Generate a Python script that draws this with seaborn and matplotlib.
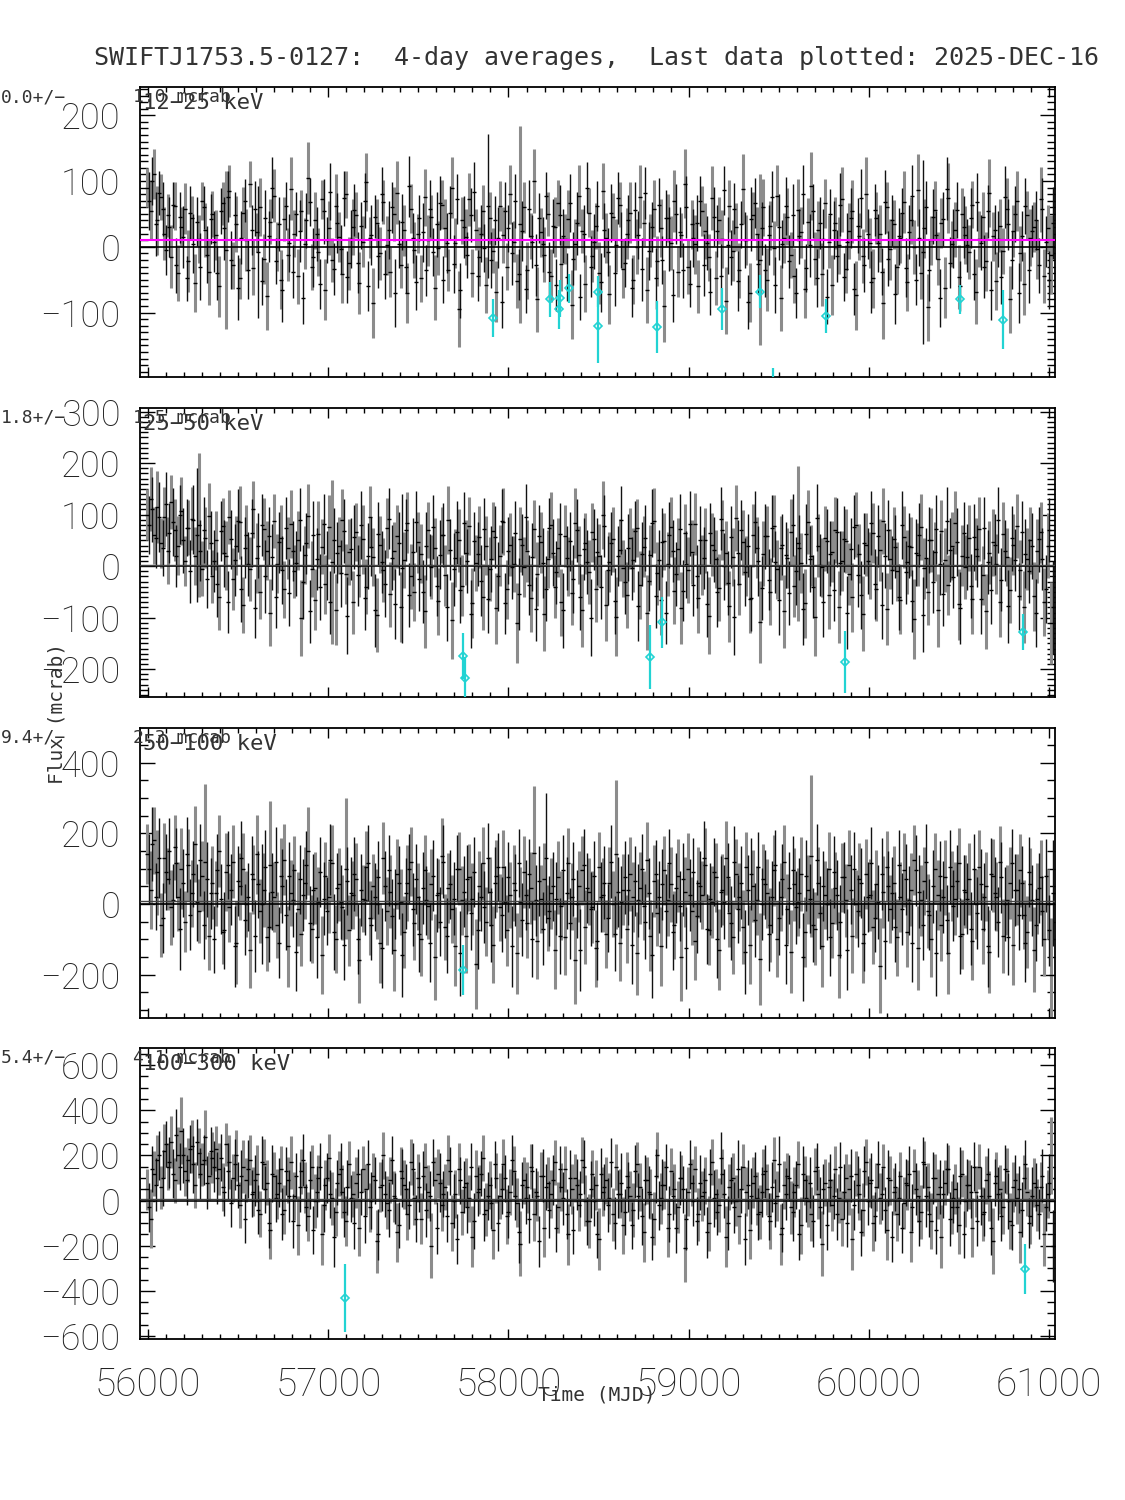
import numpy as np
import pandas as pd
import matplotlib
matplotlib.use("Agg")
import matplotlib.pyplot as plt
from matplotlib.ticker import MultipleLocator
import seaborn as sns

sns.set_style("ticks")
plt.rcParams["font.family"] = ["DejaVu Sans"]

TITLE = "SWIFTJ1753.5-0127:  4-day averages,  Last data plotted: 2025-DEC-16"
bands = ["12\u221225 keV", "25\u221250 keV", "50\u2212100 keV", "100\u2212300 keV"]
band_means = [0.0, 1.8, 9.4, 5.4]
band_errs = [1.0, 1.5, 2.3, 4.1]
mjd_start = 55995
bin_step = 19          # spacing within each of the two interleaved sets
offset_b = 9.5         # second set sits half-way between the first

# ---------------- 12-25 keV ----------------
flux_12_25 = [
    90, 55, 110, 40, 75, 20, 48, -15, 62, -40, 30, 58, -22, 44, -55, 12, 70, 25, -38, 50,
    18, -60, 66, -5, 85, -28, 35, -48, 52, 10, 95, -32, 22, 60, -18, -75, 38, 78, 0, -50,
    42, -12, 88, 20, -45, 55, 5, 105, -30, 40, -8, 72, -65, 28, -20, 62, 15, -42, 80, -25,
    30, 48, -55, 8, 98, 14, -85, 36, -10, 68, 2, -38, 50, 82, -28, 25, -70, 58, -5, 20,
    -48, 75, 10, 45, -62, -2, 64, 28, -35, 90, 6, -95, 40, 15, 72, -40, 26, -15, 55, -58,
    44, -6, -68, 62, 18, -30, 80, 8, -52, 34, 60, -36, 16, 100, -80, 22, -12, 50, -44, 30,
    66, -26, 12, 42, -88, 4, 78, 24, -56, 52, -14, 32, -40, 85, 14, -72, 46, 2, 64, -34,
    20, 52, -50, 0, 76, 36, -66, 10, 58, -22, 28, -90, 44, 6, 70, -38, 18, 96, -30, 34,
    4, -60, 54, 24, -16, 74, -48, 40, 12, -82, 62, -6, 30, -36, 88, 10, -70, 48, 20, -20,
    60, -50, 32, -2, 78, -78, 14, 46, -12, -44, 56, 22, -64, 38, 92, -18, 26, -42, 66, 8,
    -58, 36, 2, 72, -34, 24, 54, -74, 16, -14, 80, 6, -48, 44, 20, -86, 60, -4, 34, -30,
    14, 68, -54, 40, 0, 86, -40, 28, -92, 10, 56, -18, 36, -62, 74, 4, 26, -46, 50, 18,
    -8, 64, -68, 12, 46, -22, 82, 16, -52, 32, -6, 58, -80, 24, 70, -10, -56, 48, 14, 30,
    -4, 72, -44, 28, -12]
err_12_25 = [
    30, 45, 38, 52, 35, 40, 33, 48, 36, 42, 31, 39, 47, 34, 44, 37, 29, 41, 50, 35,
    38, 46, 33, 120, 40, 36, 43, 31, 39, 47, 35, 42, 30, 44, 38, 52, 34, 41, 37, 45,
    33, 40, 48, 36, 42, 31, 39, 55, 35, 44, 37, 30, 46, 41, 33, 49, 38, 43, 36, 40,
    42, 35, 47, 39, 44, 31, 53, 36, 40, 33, 45, 38, 41, 48, 34, 39, 46, 37, 42, 30,
    36, 43, 39, 34, 49, 41, 37, 44, 32, 46, 38, 58, 35, 42, 40, 37, 31, 45, 39, 43,
    40, 34, 47, 38, 42, 36, 45, 31, 41, 150, 39, 44, 35, 48, 50, 37, 42, 33, 40, 46,
    35, 41, 38, 44, 52, 39, 46, 33, 43, 37, 40, 35, 47, 42, 38, 45, 36, 41, 34, 44,
    39, 46, 37, 42, 48, 35, 50, 40, 43, 38, 44, 55, 36, 41, 47, 39, 33, 52, 42, 37,
    45, 40, 38, 43, 36, 49, 41, 35, 44, 51, 39, 46, 37, 42, 53, 38, 45, 36, 40, 130,
    43, 48, 37, 41, 46, 50, 38, 44, 35, 42, 47, 39, 45, 36, 52, 40, 43, 48, 37, 41,
    46, 39, 44, 50, 37, 42, 48, 53, 36, 41, 57, 38, 45, 40, 43, 54, 39, 46, 37, 42,
    38, 47, 43, 36, 41, 55, 39, 45, 51, 37, 44, 40, 38, 46, 53, 35, 42, 48, 39, 44,
    41, 36, 49, 43, 38, 45, 52, 37, 44, 40, 35, 47, 51, 39, 46, 42, 48, 37, 43, 38,
    45, 50, 41, 36, 60]
flux_12_25_b = [
    70, 100, 35, 82, 58, -5, 30, 64, -28, 45, 15, -48, 52, 5, 38, -30, 60, -12, 42, 8,
    -40, 55, 28, 76, -20, 48, -62, 14, 70, -35, 26, 58, -8, -52, 44, 16, 90, -22, 34, -66,
    62, 6, -38, 50, 24, -78, 40, 68, -16, 20, -56, 54, 10, 84, -34, 36, -4, 74, -46, 12,
    56, -24, 32, 70, -60, 18, 46, -14, 80, -42, 26, 60, -70, 4, 38, -30, 92, 14, -54, 44,
    22, -36, 58, -8, 34, 66, -50, 6, 52, -26, 72, -66, 30, -12, 48, 84, -44, 20, -2, 62,
    -20, 40, 14, -84, 54, 28, -10, 70, -42, 24, -64, 58, 8, -28, 44, 4, 78, -38, 32, -58,
    48, 16, -46, 66, -18, 36, -76, 20, 90, -30, 8, 62, -54, 26, -8, 52, -40, 74, 10, -24,
    40, -62, 56, 18, -34, 82, -6, 30, -48, 64, -20, 44, 12, -74, 50, 22, -36, 60, -56, 14,
    36, 70, -28, 6, -68, 46, 24, -44, 86, 2, -16, 58, -52, 34, 10, -84, 42, 66, -26, 28,
    -36, 18, 76, -58, 30, 4, 62, -22, 48, -70, 16, 80, -32, 2, 54, -48, 36, 12, -76, 50,
    26, -14, 64, -46, 8, 44, -64, 32, 74, -28, 20, -54, 56, 6, -38, 68, -18, 40, -72, 16,
    52, -32, 22, 78, -50, 14, -8, 60, -36, 46, 18, -78, 42, 88, -24, 12, 56, -60, 30, 2,
    44, -42, 68, 6, -30, 54, -66, 26, 12, -46, 76, 34, -20, 50, -70, 16, 62, -36, 24, 40,
    -28, 58, 8, -50, 36]
err_12_25_b = [
    44, 36, 49, 33, 41, 38, 46, 35, 42, 39, 47, 34, 40, 45, 37, 51, 33, 43, 38, 46,
    41, 35, 48, 39, 44, 36, 50, 40, 33, 45, 38, 42, 100, 37, 43, 39, 46, 35, 41, 48,
    37, 44, 40, 34, 47, 39, 42, 36, 45, 41, 38, 49, 35, 43, 40, 46, 37, 42, 39, 44,
    40, 47, 36, 42, 38, 45, 33, 48, 41, 37, 44, 39, 52, 36, 43, 40, 46, 38, 42, 35,
    45, 39, 43, 37, 50, 41, 36, 46, 40, 44, 38, 42, 47, 35, 41, 45, 39, 43, 37, 110,
    42, 38, 46, 40, 44, 36, 48, 41, 39, 45, 37, 43, 40, 47, 38, 42, 36, 45, 41, 39,
    46, 41, 37, 44, 40, 48, 35, 43, 39, 47, 42, 38, 45, 41, 36, 44, 50, 39, 43, 37,
    39, 45, 42, 36, 48, 40, 44, 38, 46, 41, 37, 43, 49, 40, 45, 38, 42, 47, 36, 44,
    43, 38, 47, 41, 35, 45, 40, 48, 37, 44, 42, 39, 46, 36, 43, 41, 49, 38, 45, 40,
    41, 46, 39, 43, 50, 37, 44, 40, 47, 38, 42, 45, 36, 48, 41, 44, 39, 46, 42, 38,
    44, 40, 48, 37, 43, 46, 39, 42, 45, 41, 38, 47, 40, 44, 36, 49, 42, 39, 46, 43,
    38, 45, 41, 47, 39, 43, 140, 40, 46, 42, 37, 44, 41, 48, 39, 45, 43, 38, 47, 41,
    46, 39, 44, 42, 48, 40, 45, 37, 43, 41, 47, 39, 44, 42, 46, 38, 43, 49, 40, 45,
    42, 47, 39, 44, 55]

# ---------------- 25-50 keV ----------------
flux_25_50 = [
    100, 130, 60, 115, 45, 95, 30, 125, 70, 40, 108, 10, 75, 92, 20, 80, -5, 55, 98, -20,
    50, -60, 78, 20, 95, -25, 40, 85, -75, 60, -5, 110, 15, -50, 72, 30, -90, 88, 5, 55,
    -45, 35, 82, -10, 50, -100, 22, 98, -5, -65, 62, 38, -35, 76, 8, -85, 40, 90, -15, 28,
    -70, 66, 0, 52, -40, 96, 18, -95, 42, -8, 74, -55, 30, 58, -80, 12, 84, -20, -50, 46,
    24, -88, 70, -2, 36, -68, 60, -18, 90, -105, 16, 50, -38, 26, 78, -72, 6, 56, -60, 40,
    -6, 68, -82, 20, 86, -45, 42, 4, -110, 52, -2, 30, -62, 72, -16, 46, -92, 14, 80, -40,
    36, -70, 58, 0, -52, 84, 22, -86, 44, -12, 66, -44, 20, 100, -76, 8, 52, -98, 32, -4,
    -56, 54, 12, 74, -36, 38, -90, 22, 88, -14, -66, 48, 4, 76, -48, 34, -82, 64, -8, 28,
    82, -62, 2, 50, -96, 42, 14, -42, 70, 26, -78, 18, 94, -34, 46, 0, -64, 60, 36, -108,
    24, 58, -50, 78, -6, 36, -88, 16, 66, -38, 44, 6, -72, 86, 20, -98, 40, -2, 54, -56,
    28, 70, -80, 10, 48, -16, -60, 80, 24, -92, 42, 2, 64, -44, 32, 88, -84, 14, 52, -10,
    -66, 56, 8, 38, -102, 22, 76, -4, -50, 50, 28, -86, 68, 12, -36, 40, 84, -74, 20, -2,
    54, -64, 34, 72, -18, -88, 26, 46, 4, -70, 62, 18, -46, 42, 78, -8, -80, 14, 50, -58,
    30, 66, -70, 40, -110]
err_25_50 = [
    50, 62, 55, 70, 48, 58, 65, 52, 60, 57, 66, 49, 54, 61, 56, 140, 53, 59, 64, 51,
    58, 63, 55, 67, 52, 60, 57, 71, 54, 59, 62, 56, 68, 53, 61, 57, 65, 52, 58, 63,
    55, 60, 66, 52, 58, 74, 56, 62, 54, 59, 65, 53, 57, 63, 160, 69, 55, 60, 58, 64,
    61, 56, 59, 67, 53, 60, 57, 72, 55, 62, 58, 64, 56, 61, 68, 54, 59, 63, 57, 60,
    57, 70, 55, 62, 58, 65, 54, 60, 66, 75, 56, 61, 59, 63, 57, 68, 55, 60, 64, 58,
    62, 56, 69, 59, 65, 57, 61, 55, 78, 63, 58, 60, 66, 56, 62, 59, 73, 57, 64, 61,
    58, 65, 60, 57, 63, 68, 56, 70, 59, 62, 57, 64, 61, 66, 69, 58, 63, 76, 60, 55,
    64, 59, 62, 57, 66, 60, 72, 58, 63, 61, 68, 56, 62, 59, 65, 60, 70, 57, 64, 62,
    60, 67, 58, 63, 74, 61, 56, 65, 59, 62, 69, 57, 64, 60, 63, 58, 66, 61, 59, 80,
    63, 58, 65, 61, 57, 62, 71, 59, 64, 60, 150, 58, 67, 62, 59, 76, 61, 57, 63, 66,
    59, 64, 70, 58, 62, 60, 67, 63, 57, 72, 61, 65, 58, 63, 60, 64, 70, 59, 62, 57,
    66, 60, 63, 58, 78, 61, 64, 59, 65, 62, 57, 71, 60, 63, 58, 66, 61, 69, 59, 62,
    64, 67, 60, 62, 58, 73, 61, 65, 59, 68, 62, 57, 64, 60, 63, 58, 70, 61, 65, 67,
    62, 59, 66, 63, 80]
flux_25_50_b = [
    80, 110, 55, 95, 35, 120, 65, 85, 20, 100, 50, 75, -10, 90, 60, 30, 70, -25, 45, 10,
    -35, 68, 25, -70, 52, 12, 88, -45, 36, 4, 64, -82, 40, 80, -20, 58, 18, -60, 46, -8,
    74, -52, 30, 6, 90, -30, 44, -88, 60, 14, -40, 82, 2, -70, 50, 26, -14, 68, -96, 34,
    56, -18, 80, -62, 20, 38, -86, 62, 8, -34, 92, 16, -74, 44, -4, 70, -56, 28, 86, -24,
    -50, 40, 2, 76, -38, 22, 60, -80, 32, -6, 66, -46, 84, 10, -92, 48, 24, -28, 72, -64,
    14, 56, -20, 88, -72, 30, -2, 64, -54, 42, 96, -36, 18, -84, 58, 6, -44, 74, 26, -12,
    62, -86, 16, 48, -24, 70, -60, 34, 8, -100, 52, 28, -40, 78, -8, 44, -68, 20, 90, -30,
    36, -4, 68, -78, 24, 54, -28, 84, -58, 12, 46, -90, 60, 30, -16, 72, -48, 4, 82, -36,
    -20, 50, 16, -74, 64, 32, -50, 92, 0, -32, 56, -98, 26, 70, -12, 40, -62, 86, 10, -42,
    58, -26, 74, 8, -66, 42, 22, -52, 80, -10, 36, -84, 62, 14, -40, 94, 2, -70, 48, 24,
    -46, 66, 6, 52, -90, 34, 76, -18, -56, 44, 10, 84, -34, 58, -76, 20, 70, -8, 38, -60,
    80, -12, 40, -68, 26, 60, -94, 16, 50, -30, 72, 4, -54, 88, 32, -22, 46, -82, 64, 18,
    -38, 56, 20, -64, 74, 8, -46, 42, 90, -26, 30, -78, 54, 12, -58, 66, 24, -10, 40, -90,
    52, 14, -44, 70, -80]
err_25_50_b = [
    56, 64, 59, 68, 54, 62, 58, 66, 60, 57, 63, 55, 61, 67, 130, 59, 64, 57, 62, 60,
    63, 58, 65, 60, 57, 69, 61, 64, 59, 62, 66, 58, 63, 60, 70, 57, 64, 61, 59, 66,
    60, 65, 58, 63, 61, 72, 59, 62, 66, 60, 64, 58, 67, 61, 63, 59, 65, 62, 74, 60,
    62, 59, 66, 61, 64, 58, 70, 62, 60, 65, 59, 63, 68, 61, 145, 60, 63, 66, 59, 64,
    61, 66, 60, 63, 58, 67, 62, 65, 59, 71, 61, 64, 60, 63, 66, 58, 62, 69, 60, 65,
    64, 60, 67, 62, 59, 65, 61, 63, 70, 60, 64, 58, 66, 62, 60, 68, 63, 59, 65, 61,
    60, 72, 62, 58, 66, 61, 64, 60, 63, 75, 59, 65, 62, 60, 67, 61, 64, 58, 66, 63,
    65, 61, 59, 68, 62, 64, 60, 66, 63, 58, 67, 61, 64, 60, 62, 69, 59, 65, 63, 61,
    62, 66, 60, 64, 59, 63, 68, 61, 65, 62, 60, 74, 63, 59, 66, 61, 64, 60, 67, 62,
    63, 60, 65, 61, 68, 59, 64, 62, 60, 66, 63, 70, 58, 64, 61, 65, 60, 67, 62, 63,
    60, 67, 62, 64, 71, 60, 63, 61, 66, 59, 64, 62, 68, 60, 65, 63, 59, 66, 61, 64,
    66, 61, 63, 60, 65, 62, 73, 59, 64, 61, 67, 60, 63, 65, 62, 59, 66, 70, 61, 64,
    62, 65, 60, 68, 61, 63, 66, 60, 64, 62, 59, 71, 63, 61, 65, 60, 67, 62, 64, 66,
    63, 60, 66, 62, 90]

# ---------------- 50-100 keV ----------------
flux_50_100 = [
    140, 40, 180, 90, -60, 130, 70, -10, 160, 20, 100, -50, 110, 30, 170, -20, 80, 120, -90, 60,
    30, 150, -80, 90, -10, 120, -110, 50, 100, 0, -130, 70, 140, -20, 40, -95, 110, 20, -60, 80,
    125, -120, 30, 95, -15, -85, 60, 150, -70, 45, 5, -145, 80, 20, 115, -100, 55, -10, 100, -75,
    25, 70, -160, 15, 105, -40, 50, 0, -110, 130, -20, 35, -130, 85, 5, -80, 60, 120, -55, 20,
    -100, 95, -5, 55, -150, 30, 135, -65, 45, -15, -120, 100, 10, -90, 75, 15, -170, 50, 115, -50,
    35, -115, 80, -10, 105, -75, 25, 60, -140, 5, 90, -55, 45, 145, -105, 15, 70, -40, 30, -130,
    75, -5, -95, 115, 20, -160, 50, 95, -65, 35, -10, -125, 105, 25, -85, 60, 0, 140, -110, 40,
    -70, 85, 20, -140, 45, -5, 125, -90, 65, -25, -120, 95, 10, 55, -60, 80, -150, 35, 100, -20,
    -105, 60, 25, 110, -75, 5, 75, -130, 40, 130, -25, -95, 85, 20, -65, 105, -115, 50, 10, -155,
    70, 30, -60, 95, -100, 20, 120, -15, -135, 55, 5, 85, -80, 40, 135, -70, 60, -120, 25, 100,
    -55, 45, -145, 75, 10, 110, -90, 0, 70, -110, 85, 25, -65, 55, -175, 35, 105, -15, 60, -95,
    20, 95, -80, 40, 125, -125, 10, 65, -20, -100, 100, 25, -60, 75, -140, 50, 15, 115, -85, 35,
    70, -105, 0, 105, -70, 50, -135, 80, 20, 120, -90, 10, 60, -115, 40, 95, -30, -80, 55, -130,
    15, 75, -100, 0, -200]
err_50_100 = [
    85, 110, 95, 120, 90, 100, 88, 105, 93, 98, 115, 87, 102, 94, 108, 91, 99, 220, 96, 104,
    92, 101, 89, 110, 97, 103, 118, 95, 100, 93, 107, 98, 112, 90, 104, 96, 180, 99, 94, 106,
    100, 115, 93, 98, 105, 91, 102, 125, 96, 103, 99, 110, 94, 101, 108, 97, 104, 92, 200, 100,
    97, 103, 120, 95, 100, 106, 92, 98, 113, 101, 96, 104, 117, 99, 94, 102, 107, 97, 103, 95,
    105, 99, 94, 101, 122, 97, 108, 93, 100, 96, 111, 103, 98, 106, 95, 102, 128, 99, 104, 97,
    98, 109, 102, 96, 105, 100, 93, 107, 115, 99, 103, 97, 101, 190, 108, 96, 102, 94, 100, 112,
    103, 97, 106, 100, 95, 124, 101, 98, 104, 96, 102, 109, 99, 105, 97, 101, 94, 210, 107, 100,
    96, 104, 99, 118, 101, 97, 106, 100, 103, 95, 112, 98, 102, 107, 96, 104, 126, 99, 101, 97,
    110, 100, 96, 104, 99, 102, 97, 115, 101, 106, 98, 103, 100, 96, 105, 99, 112, 102, 97, 130,
    101, 98, 104, 100, 108, 96, 103, 99, 117, 102, 97, 105, 100, 98, 230, 103, 101, 114, 97, 104,
    99, 102, 121, 98, 104, 100, 107, 96, 103, 113, 99, 101, 105, 98, 135, 102, 100, 97, 104, 108,
    100, 105, 98, 103, 99, 119, 101, 97, 104, 106, 100, 98, 102, 105, 116, 99, 103, 101, 98, 104,
    102, 111, 99, 104, 100, 97, 118, 103, 98, 101, 105, 99, 102, 114, 100, 103, 97, 101, 104, 120,
    100, 106, 103, 98, 160]
flux_50_100_b = [
    100, 170, 20, 130, -40, 90, 150, 10, 115, -70, 60, 140, -30, 85, 5, 125, -60, 70, 30, -100,
    95, 15, -75, 110, 40, -120, 65, 130, -45, 20, 85, -90, 55, 0, 105, -65, 35, 120, -110, 50,
    -30, 80, 10, -135, 70, 25, 110, -55, 40, -95, 90, 15, -20, 125, -80, 45, 5, -115, 65, 30,
    85, -100, 40, 10, 115, -60, 20, 75, -125, 50, 95, -35, 0, 60, -145, 30, 100, -15, 70, -85,
    45, 10, -110, 80, 25, -50, 120, -90, 55, 15, 100, -140, 35, 70, -25, 90, -75, 20, -10, 130,
    -60, 60, 105, -30, 5, 75, -120, 40, 115, -45, 25, 85, -100, 10, 65, -70, 130, -20, 50, 15,
    -90, 95, 30, -55, 70, 0, -130, 110, 45, -15, 80, -105, 20, 60, -40, 120, -85, 35, 5, 75,
    40, -115, 65, 10, 100, -50, 30, -145, 85, 20, 55, -20, 115, -80, 45, -5, 70, -125, 25, 90,
    -35, 50, 130, -70, 15, 90, -100, 35, 5, 75, -55, 120, -15, 60, -135, 40, 85, -45, 105, 0,
    55, -85, 20, 110, -40, 70, -115, 45, 95, -10, 30, -150, 80, 15, -60, 125, -25, 50, 0, -95,
    90, 25, -50, 75, -130, 40, 100, -20, 60, -85, 20, 115, -40, 5, 85, -105, 50, 30, -65, 110,
    -15, 70, 10, -110, 95, 35, -60, 120, -30, 50, -140, 80, 20, -45, 105, -5, 65, -90, 40, 15,
    -70, 100, -25, 55, 20, -120, 85, 30, -50, 75, 0, -95, 115, 40, -30, 60, -110, 90, 10, -60,
    45, -20, 80, -75, 30]
err_50_100_b = [
    98, 104, 95, 112, 100, 107, 93, 103, 99, 116, 96, 105, 101, 94, 109, 102, 97, 106, 100, 95,
    103, 99, 108, 96, 101, 114, 98, 104, 100, 97, 106, 102, 95, 170, 103, 99, 110, 97, 101, 105,
    100, 96, 104, 111, 98, 102, 97, 106, 100, 115, 99, 103, 96, 101, 108, 98, 104, 100, 97, 102,
    105, 99, 102, 97, 108, 100, 96, 103, 113, 99, 101, 106, 98, 104, 118, 100, 97, 103, 99, 107,
    101, 98, 112, 100, 104, 97, 102, 106, 99, 103, 96, 120, 101, 98, 105, 100, 108, 97, 102, 99,
    104, 100, 97, 106, 101, 99, 114, 102, 96, 103, 100, 98, 107, 101, 99, 104, 185, 100, 97, 103,
    108, 99, 102, 100, 105, 97, 116, 101, 99, 104, 98, 110, 100, 103, 97, 102, 106, 99, 101, 104,
    100, 112, 98, 103, 99, 106, 101, 121, 97, 102, 100, 105, 98, 107, 100, 99, 103, 117, 101, 98,
    103, 100, 106, 99, 102, 97, 110, 101, 104, 98, 105, 100, 97, 103, 119, 99, 101, 104, 98, 102,
    99, 106, 101, 98, 104, 100, 113, 102, 97, 103, 99, 125, 101, 98, 105, 100, 103, 99, 102, 108,
    101, 99, 104, 100, 115, 98, 103, 101, 99, 106, 100, 102, 97, 104, 101, 109, 99, 103, 100, 98,
    102, 100, 98, 112, 101, 104, 99, 106, 100, 103, 122, 99, 101, 98, 105, 100, 102, 108, 99, 101,
    104, 99, 102, 100, 97, 114, 101, 103, 99, 100, 105, 107, 98, 102, 100, 104, 111, 99, 101, 103,
    100, 98, 104, 101, 150]

# ---------------- 100-300 keV ----------------
flux_100_300 = [
    50, -80, 120, 180, 60, 220, 150, 260, 90, 200, 310, 130, 180, 240, 70, 210, 160, 280, 110, 190,
    230, 140, 60, 250, 170, 100, 200, -20, 150, 90, 180, 40, 120, -60, 160, 80, -130, 110, 30, 140,
    -40, 90, 170, 20, -110, 130, 60, -70, 150, 0, 100, -150, 70, 190, 10, -50, 120, 40, -90, 160,
    30, 80, -120, 140, 50, -30, 110, -180, 60, 200, -10, 90, 20, -140, 130, 70, -60, 170, 10, 100,
    -80, 150, 40, -200, 90, 120, -20, 60, 180, -100, 30, 140, -50, 80, 10, -160, 110, 50, 190, -40,
    70, -130, 100, 20, 160, -70, 40, 130, -10, -190, 90, 60, 150, -60, 20, 110, -120, 80, 30, 170,
    -30, 60, 140, -150, 50, 100, -20, 180, 0, -90, 120, 70, -170, 40, 90, 10, -60, 150, 30, -110,
    110, 20, -40, 160, 60, -140, 90, 30, -80, 200, 10, 70, -120, 130, 50, -30, 100, -210, 40, 80,
    140, -60, 20, 90, -100, 170, 30, -20, 120, -160, 60, 100, 0, -70, 150, 40, -130, 80, 10, -50,
    120, 50, -90, 180, 20, -150, 70, 110, -30, 40, 160, -110, 90, 0, -60, 130, 30, -190, 80, 60,
    -20, 140, 10, -80, 100, 50, -170, 120, 30, -40, 170, 80, -100, 60, 10, 150, -130, 90, 40, -60,
    110, -10, 70, -140, 130, 20, -50, 160, 60, -90, 100, 30, -160, 80, 140, -30, 50, -110, 120, 0,
    70, -120, 40, 150, -60, 90, 20, -180, 110, 50, -30, 130, -90, 60, 10, -140, 100, 40, -70, 80,
    -20, 60, -150, 30, 200]
err_100_300 = [
    90, 130, 100, 110, 95, 120, 105, 115, 100, 125, 150, 108, 98, 118, 102, 112, 97, 122, 106, 114,
    100, 116, 108, 95, 120, 105, 112, 103, 118, 98, 110, 107, 125, 101, 113, 99, 128, 106, 111, 104,
    109, 102, 117, 105, 132, 100, 113, 108, 98, 120, 104, 135, 110, 103, 116, 107, 101, 119, 112, 105,
    103, 111, 126, 100, 114, 108, 102, 140, 110, 105, 117, 101, 113, 130, 106, 109, 115, 102, 120, 107,
    112, 104, 118, 145, 103, 109, 116, 100, 111, 123, 107, 114, 102, 110, 105, 134, 113, 108, 101, 117,
    106, 127, 110, 103, 115, 121, 102, 112, 108, 142, 105, 113, 100, 118, 109, 104, 129, 111, 107, 100,
    113, 108, 102, 133, 110, 105, 116, 100, 112, 120, 104, 111, 137, 107, 103, 114, 118, 101, 109, 126,
    105, 112, 119, 100, 108, 131, 103, 110, 116, 102, 113, 107, 128, 104, 111, 115, 100, 150, 109, 106,
    101, 117, 110, 105, 122, 103, 112, 118, 107, 136, 100, 109, 113, 121, 102, 108, 130, 111, 116, 119,
    107, 113, 124, 100, 110, 133, 106, 102, 117, 111, 104, 126, 108, 115, 120, 103, 110, 144, 105, 112,
    114, 101, 109, 122, 106, 112, 138, 100, 115, 118, 103, 110, 125, 107, 113, 101, 132, 109, 104, 120,
    105, 116, 111, 134, 100, 114, 119, 103, 108, 124, 106, 112, 139, 101, 107, 117, 110, 128, 102, 115,
    109, 131, 113, 100, 120, 106, 111, 146, 104, 108, 117, 102, 123, 110, 114, 135, 103, 109, 121, 107,
    115, 110, 138, 105, 170]
flux_100_300_b = [
    -30, 140, 70, 200, 100, 250, 170, 120, 290, 150, 200, 90, 230, 160, 260, 120, 180, 80, 220, 150,
    100, 190, 40, 130, -10, 160, 70, 110, -80, 140, 30, 90, -40, 170, 50, -100, 120, 10, 80, -60,
    130, 20, -90, 110, 60, 180, -30, 90, -130, 40, 150, -20, 100, 30, -160, 80, 140, -50, 60, 10,
    -100, 120, 40, -70, 160, 0, 90, -150, 70, 30, -40, 180, 10, -110, 100, 50, -20, 140, -80, 60,
    110, -40, 20, 170, -120, 80, 30, -70, 130, 0, -170, 90, 60, -30, 150, -90, 40, 120, -60, 20,
    -10, 160, -100, 50, 100, -50, 180, 20, -140, 70, 10, -80, 130, 40, -180, 110, 60, -40, 90, -120,
    140, 10, -60, 100, -130, 70, 30, 150, -90, 50, 0, -150, 120, 60, -20, 170, -100, 30, 80, -50,
    60, -110, 130, 20, -70, 90, 40, -160, 110, -20, 70, 150, -60, 20, -120, 100, 50, -80, 160, 0,
    -90, 80, 40, -140, 120, 10, -50, 190, 30, -100, 90, -30, 140, 50, -170, 70, 20, 110, -60, 40,
    130, -70, 60, -10, 160, -120, 30, 100, -50, 70, -150, 120, 10, 80, -90, 150, -30, 50, -110, 90,
    20, -60, 150, 40, -100, 110, -20, 70, -140, 130, 0, 90, -70, 160, 30, -40, 100, -160, 60, 10,
    -120, 80, 120, -30, 50, -90, 170, 20, -60, 100, -130, 60, 30, 140, -80, 10, -30, 110, -150, 70,
    40, 150, -90, 20, -50, 120, -120, 80, 30, -70, 140, 0, -110, 90, 50, -40, 160, -100, 20, 60,
    -60, 110, -30, 80, -200]
err_100_300_b = [
    110, 104, 118, 107, 122, 101, 113, 108, 116, 103, 120, 111, 106, 125, 102, 114, 109, 119, 105, 112,
    117, 103, 110, 124, 106, 115, 101, 112, 108, 130, 104, 113, 107, 118, 103, 111, 126, 105, 109, 116,
    106, 114, 121, 102, 110, 117, 104, 128, 108, 112, 103, 119, 111, 106, 133, 101, 115, 109, 122, 104,
    113, 107, 102, 118, 110, 125, 105, 111, 116, 103, 121, 108, 114, 102, 129, 110, 106, 117, 104, 112,
    108, 119, 111, 104, 115, 131, 102, 113, 107, 120, 109, 103, 116, 112, 105, 123, 110, 101, 118, 106,
    115, 102, 124, 109, 104, 117, 111, 106, 136, 103, 114, 108, 120, 105, 112, 118, 101, 126, 110, 107,
    104, 116, 110, 122, 106, 113, 102, 119, 108, 127, 111, 105, 115, 103, 121, 109, 114, 107, 132, 102,
    112, 106, 117, 103, 128, 110, 115, 104, 120, 108, 113, 101, 124, 107, 111, 118, 105, 137, 109, 114,
    107, 121, 104, 113, 110, 126, 102, 116, 109, 119, 105, 112, 130, 103, 117, 108, 123, 106, 114, 111,
    118, 103, 112, 107, 124, 109, 115, 102, 128, 106, 113, 120, 104, 111, 117, 105, 134, 110, 108, 116,
    103, 114, 109, 121, 105, 118, 111, 127, 104, 112, 107, 122, 110, 106, 116, 102, 125, 113, 108, 119,
    110, 106, 123, 104, 115, 109, 112, 135, 103, 117, 108, 121, 105, 113, 119, 107, 111, 126, 102, 114,
    116, 108, 113, 129, 105, 111, 120, 104, 117, 110, 106, 124, 109, 114, 103, 121, 107, 112, 131, 105,
    112, 118, 106, 125, 160]

# flagged (cyan) points: mjd, flux, error
flag_mjd_12_25 = [57915, 58231, 58286, 58281, 58336, 58497, 58497, 58825, 59185, 59396, 59468, 59762, 60506, 60745]
flag_flux_12_25 = [-108, -80, -78, -95, -63, -68, -120, -122, -95, -68, -215, -105, -80, -111]
flag_err_12_25 = [29, 27, 28, 30, 22, 24, 57, 40, 32, 25, 30, 26, 22, 45]
flag_mjd_25_50 = [57748, 57759, 58786, 58852, 59868, 60856]
flag_flux_25_50 = [-175, -217, -177, -109, -186, -128]
flag_err_25_50 = [45, 40, 62, 50, 60, 35]
flag_mjd_50_100 = [57748]
flag_flux_50_100 = [-187]
flag_err_50_100 = [70]
flag_mjd_100_300 = [57093, 60867]
flag_flux_100_300 = [-431, -302]
flag_err_100_300 = [150, 110]

panels = [
    (flux_12_25, err_12_25, flux_12_25_b, err_12_25_b, flag_mjd_12_25, flag_flux_12_25, flag_err_12_25),
    (flux_25_50, err_25_50, flux_25_50_b, err_25_50_b, flag_mjd_25_50, flag_flux_25_50, flag_err_25_50),
    (flux_50_100, err_50_100, flux_50_100_b, err_50_100_b, flag_mjd_50_100, flag_flux_50_100, flag_err_50_100),
    (flux_100_300, err_100_300, flux_100_300_b, err_100_300_b, flag_mjd_100_300, flag_flux_100_300, flag_err_100_300),
]
ylims = [(-198, 243), (-254, 307), (-323, 498), (-613, 676)]
ymajor = [100, 100, 200, 200]
yminor = [10, 10, 50, 50]
panel_px = [(87, 377), (408, 697), (728, 1018), (1048, 1339)]

W, H = 1125, 1500
fig = plt.figure(figsize=(W / 100, H / 100), dpi=100)
left_px, right_px = 140, 1055
TXT = "#222222"
SMALL = "#333333"
MONO = "DejaVu Sans Mono"
TICKFONT = ["Roboto", "DejaVu Sans"]


def make_df(flux, err, t0):
    n = min(len(flux), len(err))
    return pd.DataFrame({
        "mjd": t0 + bin_step * np.arange(n),
        "flux": np.asarray(flux[:n], float),
        "err": np.asarray(err[:n], float),
    })


for i, (top, bot) in enumerate(panel_px):
    ax = fig.add_axes([left_px / W, 1 - bot / H, (right_px - left_px) / W, (bot - top) / H])
    fa, ea, fb, eb, fm, ff, fe = panels[i]
    da = make_df(fa, ea, mjd_start)
    db = make_df(fb, eb, mjd_start + offset_b)
    ax.vlines(da.mjd, da.flux - da.err, da.flux + da.err, color="#8c8c8c", lw=2.2, zorder=2)
    ax.vlines(db.mjd, db.flux - db.err, db.flux + db.err, color="#111111", lw=1.0, zorder=3)
    both = pd.concat([da, db], ignore_index=True)
    sns.scatterplot(data=both, x="mjd", y="flux", marker="_", color="k", s=10,
                    linewidth=1.0, ax=ax, zorder=4, legend=False)
    ax.axhline(0, color="k", lw=1.2, zorder=5)
    if i == 0:
        ax.axhline(10, color="#ff00ff", lw=1.5, zorder=6)
    else:
        ax.axhline(band_means[i], color="#444444", lw=1.0, zorder=5)
    fdf = pd.DataFrame({"mjd": fm, "flux": ff, "err": fe})
    ax.vlines(fdf.mjd, fdf.flux - fdf.err, fdf.flux + fdf.err, color="#22d3d3", lw=1.6, zorder=7)
    ax.plot(fdf.mjd, fdf.flux, ls="none", marker="D", ms=4.5, mfc="none",
            mec="#22d3d3", mew=1.2, zorder=8)

    ax.set_xlim(55955, 61033)
    ax.set_ylim(*ylims[i])
    ax.xaxis.set_major_locator(MultipleLocator(1000))
    ax.xaxis.set_minor_locator(MultipleLocator(100))
    ax.yaxis.set_major_locator(MultipleLocator(ymajor[i]))
    ax.yaxis.set_minor_locator(MultipleLocator(yminor[i]))
    ax.tick_params(axis="both", which="both", direction="in", top=True, right=True,
                   color="k", width=1.0)
    ax.tick_params(axis="y", which="major", length=11)
    ax.tick_params(axis="y", which="minor", length=6)
    ax.tick_params(axis="x", which="major", length=7)
    ax.tick_params(axis="x", which="minor", length=3.5)
    ax.tick_params(axis="y", which="major", labelsize=26, pad=14, labelcolor=TXT)
    ax.set_xlabel("")
    ax.set_ylabel("")
    for lab in ax.get_yticklabels():
        lab.set_family(TICKFONT)
        lab.set_fontweight("light")
    if i < 3:
        ax.set_xticklabels([])
    else:
        ax.tick_params(axis="x", which="major", labelsize=28, pad=20, labelcolor=TXT)
        for lab in ax.get_xticklabels():
            lab.set_family(TICKFONT)
            lab.set_fontweight("light")
    for sp in ax.spines.values():
        sp.set_linewidth(1.3)
        sp.set_color("k")

    ty = (top + 10) / H
    fig.text(1 / W, 1 - ty, f"{band_means[i]:.1f}+/\u2212", fontsize=13, color=SMALL,
             ha="left", va="center", family=MONO)
    fig.text(133 / W, 1 - ty, f"{band_errs[i]:.1f} mcrab", fontsize=13, color=SMALL,
             ha="left", va="center", family=MONO)
    fig.text(143 / W, 1 - (top + 16) / H, bands[i], fontsize=16, color=SMALL,
             ha="left", va="center", family=MONO)

fig.text(597 / W, 1 - 58 / H, TITLE, fontsize=18, color=SMALL, ha="center", va="center",
         family=MONO)
fig.text(57 / W, 1 - 713 / H, "Flux (mcrab)", fontsize=14, color=SMALL, rotation=90,
         ha="center", va="center", family=MONO)
fig.text(597 / W, 1 - 1395 / H, "Time (MJD)", fontsize=14, color=SMALL, ha="center",
         va="center", family=MONO)

fig.savefig("out.png", dpi=100, facecolor="white")
